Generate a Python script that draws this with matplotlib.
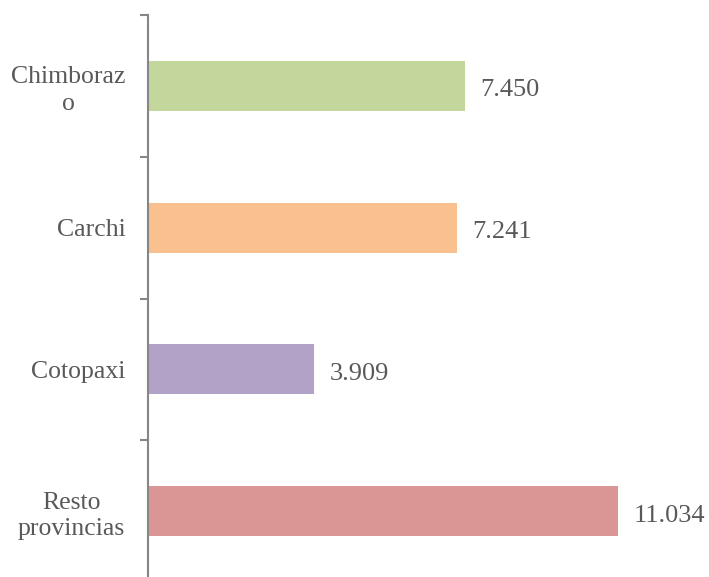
import numpy as np
import matplotlib
matplotlib.use('Agg')
import matplotlib.pyplot as plt

# values (decimal comma style labels)
categories = ['Chimboraz\no', 'Carchi', 'Cotopaxi', 'Resto\nprovincias']
values = [7.450, 7.241, 3.909, 11.034]
value_labels = ['7.450', '7.241', '3.909', '11.034']
colors = ['#C3D69B', '#FAC090', '#B3A2C7', '#D99694']

text_color = '#595959'
axis_color = '#868686'

plt.rcParams['font.family'] = ['Liberation Serif', 'DejaVu Serif']

fig = plt.figure(figsize=(7.09, 5.77), dpi=100)
ax = fig.add_axes([147.5 / 709, -5 / 577, 1 - 147.5 / 709, 567 / 577])

y = np.arange(len(categories))
ax.barh(y, values, height=0.353, color=colors)
ax.set_ylim(len(categories) - 0.5, -0.5)
ax.set_xlim(0, (709 - 147.5) / 42.68)

for yi, v, lab in zip(y, values, value_labels):
    ax.annotate(lab, (v, yi), xytext=(11, -1.5), textcoords='offset points',
                va='center_baseline', ha='left', fontsize=19, color=text_color)

# boundary ticks, labels at category centres
ax.set_yticks(np.arange(len(categories) + 1) - 0.5)
ax.set_yticklabels([])
ax.set_yticks(y, minor=True)
ax.set_yticklabels(categories, minor=True, fontsize=18.5, color=text_color)
for lbl in ax.get_yticklabels(minor=True):
    lbl.set_multialignment('center')
    lbl.set_linespacing(1.25)
ax.tick_params(axis='y', which='major', length=5.5, width=1.5, color=axis_color)
ax.tick_params(axis='y', which='minor', length=0, pad=16)

ax.set_xticks([])
for s in ['top', 'right', 'bottom']:
    ax.spines[s].set_visible(False)
ax.spines['left'].set_color(axis_color)
ax.spines['left'].set_linewidth(1.5)

fig.savefig('out.png', dpi=100)
